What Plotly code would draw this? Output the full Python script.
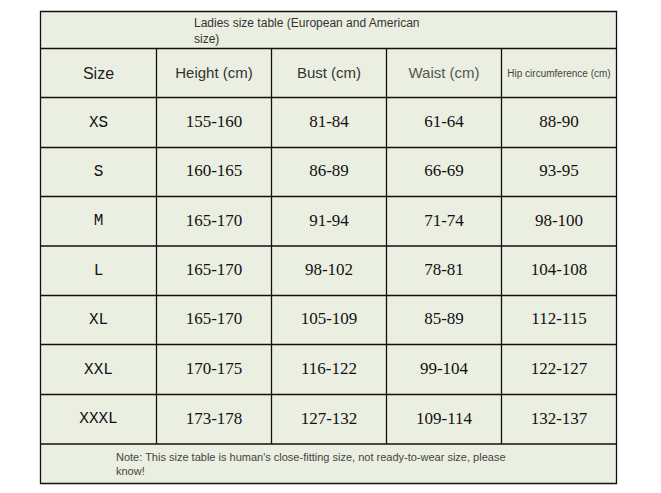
import plotly.graph_objects as go

# -------------------------------------------------------------------
# Table content
# -------------------------------------------------------------------
TITLE = "Ladies size table (European and American<br>size)"
NOTE = ("Note: This size table is human's close-fitting size, not ready-to-wear size, please"
        "<br>know!")

HEADERS = ["Size", "Height (cm)", "Bust (cm)", "Waist (cm)", "Hip circumference (cm)"]

SIZES = ["XS", "S", "M", "L", "XL", "XXL", "XXXL"]
HEIGHT = ["155-160", "160-165", "165-170", "165-170", "165-170", "170-175", "173-178"]
BUST = ["81-84", "86-89", "91-94", "98-102", "105-109", "116-122", "127-132"]
WAIST = ["61-64", "66-69", "71-74", "78-81", "85-89", "99-104", "109-114"]
HIP = ["88-90", "93-95", "98-100", "104-108", "112-115", "122-127", "132-137"]

# -------------------------------------------------------------------
# Layout of the grid (window pixel units, y grows downwards)
# the page body has an 8px margin, so the figure starts at (8, 8)
# -------------------------------------------------------------------
WIN_W, WIN_H = 661, 493
PAD = 8
COL_EDGES = [40.5, 156.5, 271.5, 386.5, 501.5, 616.5]
ROW_EDGES = [11.5, 48.5, 97.5, 147.5, 196.5, 246, 295.5, 344.5, 394.5, 444, 483.5]
BG = "#EBEFE1"
LINE = "#111111"

col_mid = [(a + b) / 2 for a, b in zip(COL_EDGES[:-1], COL_EDGES[1:])]
row_mid = [(a + b) / 2 for a, b in zip(ROW_EDGES[:-1], ROW_EDGES[1:])]

fig = go.Figure()

# header row (row index 1), nudged down a little to sit like the original
fig.add_trace(go.Scatter(
    x=col_mid,
    y=[row_mid[1] + 1.5] * len(HEADERS),
    mode="text",
    text=HEADERS,
    textfont=dict(
        family="Liberation Sans, Arial, sans-serif",
        size=[16, 15, 15, 15, 10],
        color=["#222222", "#333333", "#333333", "#555555", "#444444"],
    ),
    hoverinfo="skip",
))

# size column
body_rows = row_mid[2:2 + len(SIZES)]
fig.add_trace(go.Scatter(
    x=[col_mid[0]] * len(SIZES),
    y=body_rows,
    mode="text",
    text=SIZES,
    textfont=dict(family="Liberation Mono, monospace", size=16, color="#111111"),
    hoverinfo="skip",
))

# numeric columns
for ci, values in enumerate([HEIGHT, BUST, WAIST, HIP], start=1):
    fig.add_trace(go.Scatter(
        x=[col_mid[ci]] * len(values),
        y=body_rows,
        mode="text",
        text=values,
        textfont=dict(family="Liberation Serif, serif", size=17, color="#111111"),
        hoverinfo="skip",
    ))

# ------------------------------
# Grid lines and background
# ------------------------------
shapes = [dict(type="rect", x0=COL_EDGES[0], x1=COL_EDGES[-1],
               y0=ROW_EDGES[0], y1=ROW_EDGES[-1],
               fillcolor=BG, line=dict(color=LINE, width=1.3), layer="below")]
for y in ROW_EDGES[1:-1]:
    shapes.append(dict(type="line", x0=COL_EDGES[0], x1=COL_EDGES[-1], y0=y, y1=y,
                       line=dict(color=LINE, width=1.3)))
for x in COL_EDGES[1:-1]:
    shapes.append(dict(type="line", x0=x, x1=x, y0=ROW_EDGES[1], y1=ROW_EDGES[-2],
                       line=dict(color=LINE, width=1.3)))

annotations = [
    dict(x=192, y=row_mid[0] + 0.5, text=TITLE, showarrow=False, xanchor="left",
         yanchor="middle", align="left",
         font=dict(family="Liberation Sans, Arial, sans-serif", size=12, color="#333333")),
    dict(x=114, y=row_mid[-1], text=NOTE, showarrow=False, xanchor="left",
         yanchor="middle", align="left",
         font=dict(family="Liberation Sans, Arial, sans-serif", size=11, color="#444444")),
]

fig.update_layout(
    width=WIN_W - 2 * PAD,
    height=WIN_H - 2 * PAD,
    margin=dict(l=0, r=0, t=0, b=0),
    paper_bgcolor="white",
    plot_bgcolor="white",
    showlegend=False,
    shapes=shapes,
    annotations=annotations,
    xaxis=dict(range=[PAD, WIN_W - PAD], visible=False, fixedrange=True),
    yaxis=dict(range=[WIN_H - PAD, PAD], visible=False, fixedrange=True),
)

fig.write_html("out.html")
